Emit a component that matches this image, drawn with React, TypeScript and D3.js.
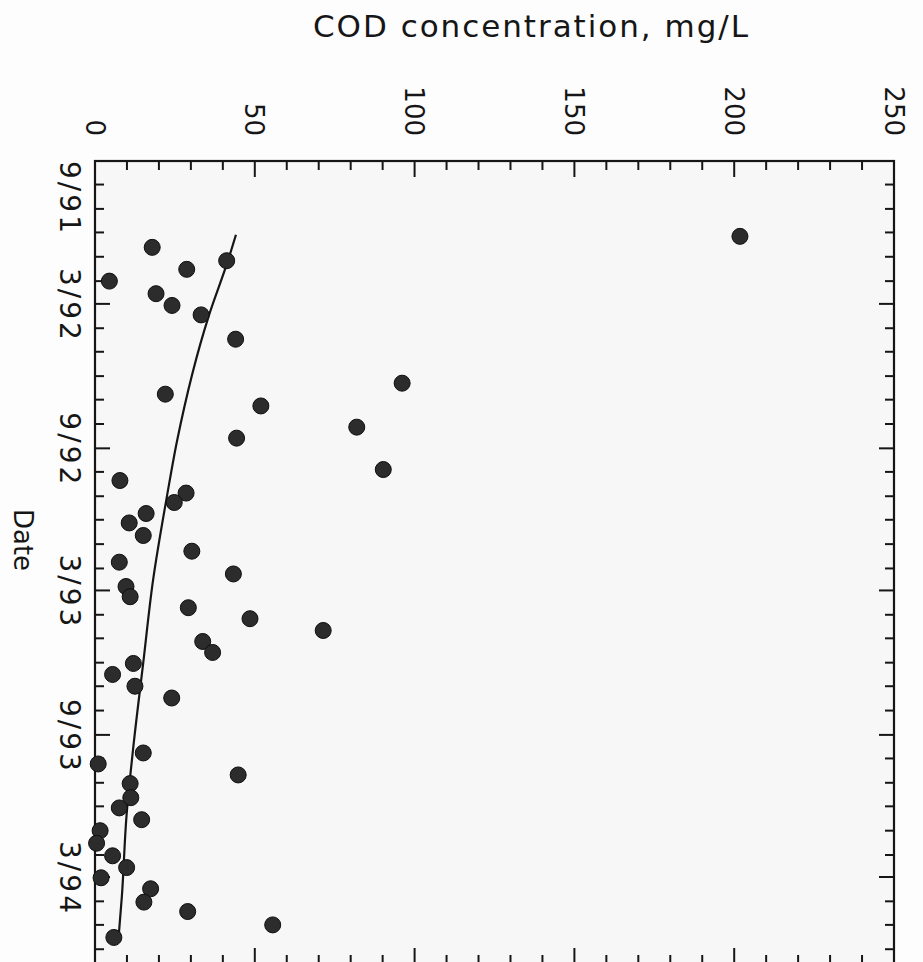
import * as d3 from 'd3';

// measured COD samples (date, mg/L)
const sampleDates = [
  '1991-12-06', '1991-12-20', '1992-01-06', '1992-01-17', '1992-02-01', '1992-02-17',
  '1992-03-03', '1992-03-15', '1992-04-15', '1992-06-10', '1992-06-24', '1992-07-09',
  '1992-08-05', '1992-08-19', '1992-09-28', '1992-10-12', '1992-10-28', '1992-11-09',
  '1992-11-23', '1992-12-05', '1992-12-21', '1993-01-10', '1993-01-24', '1993-02-08',
  '1993-02-24', '1993-03-09', '1993-03-23', '1993-04-06', '1993-04-21', '1993-05-05',
  '1993-05-19', '1993-06-02', '1993-06-16', '1993-07-01', '1993-07-16', '1993-09-24',
  '1993-10-08', '1993-10-22', '1993-11-02', '1993-11-20', '1993-12-03', '1993-12-18',
  '1994-01-01', '1994-01-17', '1994-02-02', '1994-02-17', '1994-03-02', '1994-03-16',
  '1994-04-02', '1994-04-14', '1994-05-01', '1994-05-17',
];
const sampleCod = [
  201.8, 17.9, 41.2, 28.7, 4.5, 19.1,
  24.1, 33.2, 44.0, 96.1, 22.0, 51.9,
  81.9, 44.3, 90.2, 7.8, 28.5, 24.8,
  16.0, 10.7, 15.1, 30.3, 7.6, 43.3,
  9.7, 11.0, 29.2, 48.5, 71.4, 33.7,
  36.8, 12.0, 5.5, 12.5, 24.0, 15.1,
  1.0, 44.8, 11.0, 11.2, 7.6, 14.6,
  1.6, 0.5, 5.5, 9.9, 1.9, 17.4,
  15.3, 29.0, 55.6, 5.9,
];

// fitted trend curve
const fitDates = [
  '1991-12-04', '1992-01-06', '1992-03-15', '1992-08-22', '1992-10-30', '1993-02-15',
  '1993-06-01', '1993-09-16', '1993-12-11', '1994-03-26', '1994-05-16',
];
const fitCod = [44.1, 41.6, 35.7, 25.7, 22.6, 18.2, 15.1, 12.0, 9.9, 8.4, 7.4];

const codTickLabels = [0, 50, 100, 150, 200, 250];
const dateTickDates = ['1991-09-01', '1992-03-01', '1992-09-01', '1993-03-01', '1993-09-01', '1994-03-01'];
const dateTickLabels = ['9/91', '3/92', '9/92', '3/93', '9/93', '3/94'];

const W = 923;
const H = 962;
const left = 95;
const right = 894;
const top = 161;
const bottom = 964;
const font = 'DejaVu Sans, sans-serif';
const ink = '#161616';

const parse = d3.timeParse('%Y-%m-%d');

export default function App() {
  const x = d3.scaleLinear().domain([0, 250]).range([left, right]);
  const y = d3
    .scaleTime()
    .domain([parse('1991-09-01')!, parse('1994-03-01')!])
    .range([top, 877]);

  const samples = sampleDates.map((d, i) => ({ date: parse(d)!, cod: sampleCod[i] }));
  const fit = fitDates.map((d, i) => ({ date: parse(d)!, cod: fitCod[i] }));

  const line = d3
    .line<{ date: Date; cod: number }>()
    .x((d) => x(d.cod))
    .y((d) => y(d.date))
    .curve(d3.curveMonotoneY);

  const months = d3
    .timeMonth.range(parse('1991-09-01')!, parse('1994-08-01')!)
    .filter((d) => y(d) <= bottom);
  const codMinor = d3.range(0, 251, 10);

  const numSize = 26;
  const numCap = numSize * 0.73;
  const dateSize = 28;
  const dateLen = 72;

  return (
    <svg
      width={W}
      height={H}
      style={{ position: 'absolute', left: 0, top: 0, background: '#fdfdfd' }}
    >
      <rect x={left} y={top} width={right - left} height={bottom - top} fill="#f7f7f7" />

      {/* month ticks, left and right */}
      {months.map((d) => {
        const major = d.getMonth() === 2 || d.getMonth() === 8;
        const len = major ? 15 : 9;
        const yy = y(d);
        return (
          <g key={d.toISOString()} stroke={ink} strokeWidth={2}>
            <line x1={left} x2={left + len} y1={yy} y2={yy} />
            <line x1={right} x2={right - len} y1={yy} y2={yy} />
          </g>
        );
      })}

      {/* COD ticks, top and bottom */}
      {codMinor.map((v) => {
        const major = v % 50 === 0;
        const len = major ? 16 : 9;
        const xx = x(v);
        return (
          <g key={v} stroke={ink} strokeWidth={2}>
            <line x1={xx} x2={xx} y1={top} y2={top + len} />
            <line x1={xx} x2={xx} y1={bottom} y2={bottom - len} />
          </g>
        );
      })}

      <rect
        x={left}
        y={top}
        width={right - left}
        height={bottom - top}
        fill="none"
        stroke={ink}
        strokeWidth={2.2}
      />

      {/* COD tick labels, rotated like the scanned page */}
      {codTickLabels.map((v) => (
        <text
          key={v}
          transform={`translate(${x(v) - numCap / 2},136) rotate(90)`}
          textAnchor="end"
          fontFamily={font}
          fontSize={numSize}
          fill={ink}
        >
          {v}
        </text>
      ))}

      {/* date tick labels */}
      {dateTickDates.map((d, i) => {
        const cy = Math.max(y(parse(d)!), top + dateLen / 2);
        return (
          <text
            key={d}
            transform={`translate(60,${cy}) rotate(90)`}
            textAnchor="middle"
            fontFamily={font}
            fontSize={dateSize}
            textLength={dateLen}
            lengthAdjust="spacing"
            fill={ink}
          >
            {dateTickLabels[i]}
          </text>
        );
      })}

      <text
        x={313}
        y={37}
        fontFamily={font}
        fontSize={31}
        textLength={435}
        lengthAdjust="spacing"
        fill={ink}
      >
        COD concentration, mg/L
      </text>

      <text
        transform="translate(14,540) rotate(90)"
        textAnchor="middle"
        fontFamily={font}
        fontSize={26}
        fill={ink}
      >
        Date
      </text>

      <path d={line(fit) ?? ''} fill="none" stroke={ink} strokeWidth={2.2} />

      {samples.map((s, i) => (
        <circle
          key={i}
          cx={x(s.cod)}
          cy={y(s.date)}
          r={8}
          fill="#2c2c2c"
          stroke="#0e0e0e"
          strokeWidth={1}
        />
      ))}
    </svg>
  );
}
